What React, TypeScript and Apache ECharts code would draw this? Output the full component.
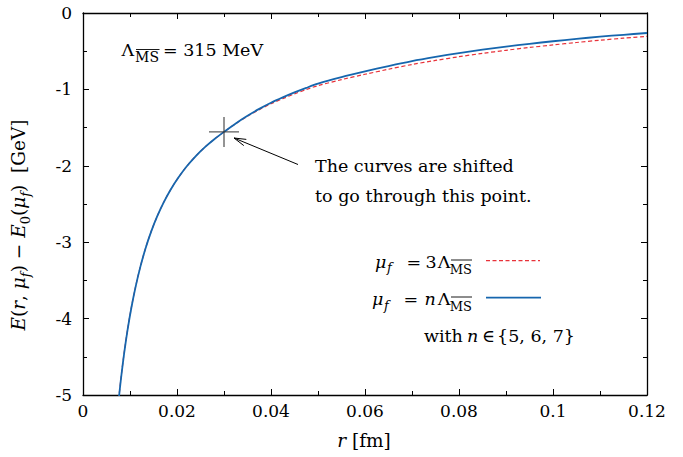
import React, { useEffect, useRef } from 'react';
import * as echarts from 'echarts';

// r [fm] sample positions
const rValues = [0.0072, 0.0077, 0.0082, 0.0088, 0.0095, 0.0103, 0.0112, 0.0122, 0.0133, 0.0145, 0.0158, 0.0172, 0.0187, 0.0203, 0.022, 0.024, 0.026, 0.028, 0.03, 0.0325, 0.035, 0.0375, 0.04, 0.0425, 0.045, 0.0475, 0.05, 0.055, 0.06, 0.065, 0.07, 0.075, 0.08, 0.085, 0.09, 0.095, 0.1, 0.105, 0.11, 0.115, 0.12];
// mu_f = n Lambda (blue, solid)
const eBlue = [-5.32, -5.0, -4.725, -4.434, -4.141, -3.855, -3.581, -3.323, -3.083, -2.862, -2.66, -2.475, -2.307, -2.154, -2.013, -1.873, -1.753, -1.649, -1.556, -1.445, -1.345, -1.255, -1.175, -1.105, -1.04, -0.98, -0.925, -0.84, -0.765, -0.695, -0.63, -0.575, -0.525, -0.48, -0.44, -0.403, -0.37, -0.339, -0.31, -0.285, -0.262];
// mu_f = 3 Lambda (red, dashed)
const eRed = [-5.31, -4.99, -4.717, -4.428, -4.136, -3.851, -3.578, -3.32, -3.081, -2.86, -2.659, -2.474, -2.306, -2.153, -2.012, -1.872, -1.752, -1.649, -1.556, -1.448, -1.351, -1.265, -1.188, -1.121, -1.059, -1.002, -0.951, -0.872, -0.802, -0.736, -0.674, -0.621, -0.572, -0.528, -0.488, -0.451, -0.418, -0.386, -0.356, -0.33, -0.306];
// the point the curves are shifted through
const shiftPoint = [0.03, -1.556];

const xMin = 0, xMax = 0.12, xStep = 0.02;
const yMin = -5, yMax = 0, yStep = 1;

const FONT = 'DejaVu Serif';
const FS = 17.5;

export default function App() {
  const ref = useRef<HTMLDivElement>(null);
  useEffect(() => {
    const chart = echarts.init(ref.current!, null, { renderer: 'svg' });
    const blueData = rValues.map((r, i) => [r, eBlue[i]]);
    const redData = rValues.map((r, i) => [r, eRed[i]]);

    const axisCommon = {
      type: 'value' as const,
      axisLine: { show: true, onZero: false, lineStyle: { color: '#000', width: 1.3 } },
      axisTick: { show: true, inside: true, length: 6, lineStyle: { color: '#000', width: 1 } },
      minorTick: { show: true, splitNumber: 2, length: 4, lineStyle: { color: '#000', width: 1 } },
      splitLine: { show: false },
      minorSplitLine: { show: false },
    };
    const xLabel = {
      color: '#000', fontSize: 17, fontFamily: FONT, margin: 7,
      showMinLabel: true, showMaxLabel: true,
      formatter: (v: number) => String(Number(v.toFixed(3))),
    };
    const yLabel = {
      color: '#000', fontSize: 17, fontFamily: FONT, margin: 11,
      showMinLabel: true, showMaxLabel: true,
      formatter: (v: number) => String(Number(v.toFixed(3))),
    };

    const main = { fontSize: 18.5, fontFamily: FONT, color: '#000', lineHeight: 28, verticalAlign: 'middle' as const };
    const ital = { ...main, fontStyle: 'italic' as const };
    const sub = { fontSize: 13, fontFamily: FONT, color: '#000', lineHeight: 15, verticalAlign: 'bottom' as const };
    const subI = { ...sub, fontStyle: 'italic' as const };
    const rich = { n: main, i: ital, s: sub, si: subI };

    const txt = (text: string, x: number, y: number, extra: any = {}) => ({
      type: 'text', x, y,
      style: { text, fontSize: FS, fontFamily: FONT, fill: '#000', textAlign: 'left', textVerticalAlign: 'middle', ...extra },
    });
    const it = { fontStyle: 'italic' };
    const subSt = { fontSize: 13, fontStyle: 'italic' };
    const msSt = { fontSize: 13, textAlign: 'right' };
    const bar = (x1: number, x2: number, y: number) => ({
      type: 'line', shape: { x1, y1: y, x2, y2: y }, style: { stroke: '#000', lineWidth: 0.9 },
    });

    const option: any = {
      animation: false,
      backgroundColor: '#fff',
      textStyle: { fontFamily: FONT },
      grid: { left: 83, right: 36, top: 13, bottom: 62 },
      xAxis: [
        { ...axisCommon, min: xMin, max: xMax, interval: xStep, position: 'bottom', axisLabel: xLabel },
        { ...axisCommon, min: xMin, max: xMax, interval: xStep, position: 'top', axisLabel: { show: false } },
      ],
      yAxis: [
        { ...axisCommon, min: yMin, max: yMax, interval: yStep, position: 'left', axisLabel: yLabel },
        { ...axisCommon, min: yMin, max: yMax, interval: yStep, position: 'right', axisLabel: { show: false } },
      ],
      series: [
        {
          type: 'line', name: 'mu_f = 3 Lambda', data: redData, showSymbol: false, symbol: 'none',
          smooth: 0.3, z: 2, clip: true,
          lineStyle: { color: '#e8323a', width: 1.2, type: [4, 2.5] },
        },
        {
          type: 'line', name: 'mu_f = n Lambda', data: blueData, showSymbol: false, symbol: 'none',
          smooth: 0.3, z: 3, clip: true,
          lineStyle: { color: '#1666ae', width: 1.8 },
        },
        {
          type: 'scatter', data: [shiftPoint], symbol: 'path://M15,0L15,30M0,15L30,15', symbolSize: 30, z: 4,
          itemStyle: { color: 'none', borderColor: '#333', borderWidth: 1.3 },
        },
      ],
      graphic: [
        // Lambda_MS = 315 MeV
        txt('Λ', 121.5, 50),
        txt('MS', 159, 56.8, { fontSize: 14, textAlign: 'right' }),
        bar(136, 159.5, 49.5),
        txt('= 315 MeV', 163, 50),

        // annotation
        txt('The curves are shifted', 315, 165.7),
        txt('to go through this point.', 315, 195.7),
        { type: 'line', shape: { x1: 298, y1: 164.5, x2: 234, y2: 138 }, style: { stroke: '#000', lineWidth: 1 } },
        { type: 'polyline', shape: { points: [[243.8, 145.6], [234, 138], [246.3, 139.4]] }, style: { stroke: '#000', lineWidth: 1, fill: 'none' } },

        // legend row 1: mu_f = 3 Lambda_MS
        txt('μ', 375, 261.5, it),
        txt('f', 387, 267.5, subSt),
        txt('=', 406.5, 261.5),
        txt('3', 425.5, 261.5),
        txt('Λ', 450.5, 261.5, { textAlign: 'right' }),
        txt('MS', 472, 269, msSt),
        bar(451, 472, 260),
        { type: 'line', shape: { x1: 486, y1: 260.7, x2: 540, y2: 260.7 }, style: { stroke: '#e8323a', lineWidth: 1.2, lineDash: [4, 2.5] } },

        // legend row 2: mu_f = n Lambda_MS
        txt('μ', 372, 299, it),
        txt('f', 384, 305, subSt),
        txt('=', 403.5, 299),
        txt('n', 424.5, 299, it),
        txt('Λ', 450.5, 299, { textAlign: 'right' }),
        txt('MS', 472, 306.5, msSt),
        bar(451, 472, 297),
        { type: 'line', shape: { x1: 486, y1: 297.7, x2: 541, y2: 297.7 }, style: { stroke: '#1666ae', lineWidth: 1.8 } },

        // legend row 3: with n in {5,6,7}
        txt('with', 424, 336),
        txt('n', 467, 336, it),
        txt('∈', 482, 336),
        txt('{5, 6, 7}', 575, 336, { textAlign: 'right' }),

        // axis names
        txt('{i|r}{n| [fm]}', 364, 440, { rich, textAlign: 'center' }),
        {
          type: 'text', x: 18, y: 225, rotation: Math.PI / 2,
          style: {
            text: '{i|E}{n|(}{i|r}{n|, }{i|μ}{si|f}{n|) − }{i|E}{s|0}{n|(}{i|μ}{si|f}{n|)  [GeV]}',
            fontSize: 18.5, fontFamily: FONT, fill: '#000',
            rich, textAlign: 'center', textVerticalAlign: 'middle',
          },
        },
      ],
    };
    chart.setOption(option);
    return () => chart.dispose();
  }, []);
  return <div ref={ref} style={{ position: 'fixed', left: 0, top: 0, width: 683, height: 457 }} />;
}
